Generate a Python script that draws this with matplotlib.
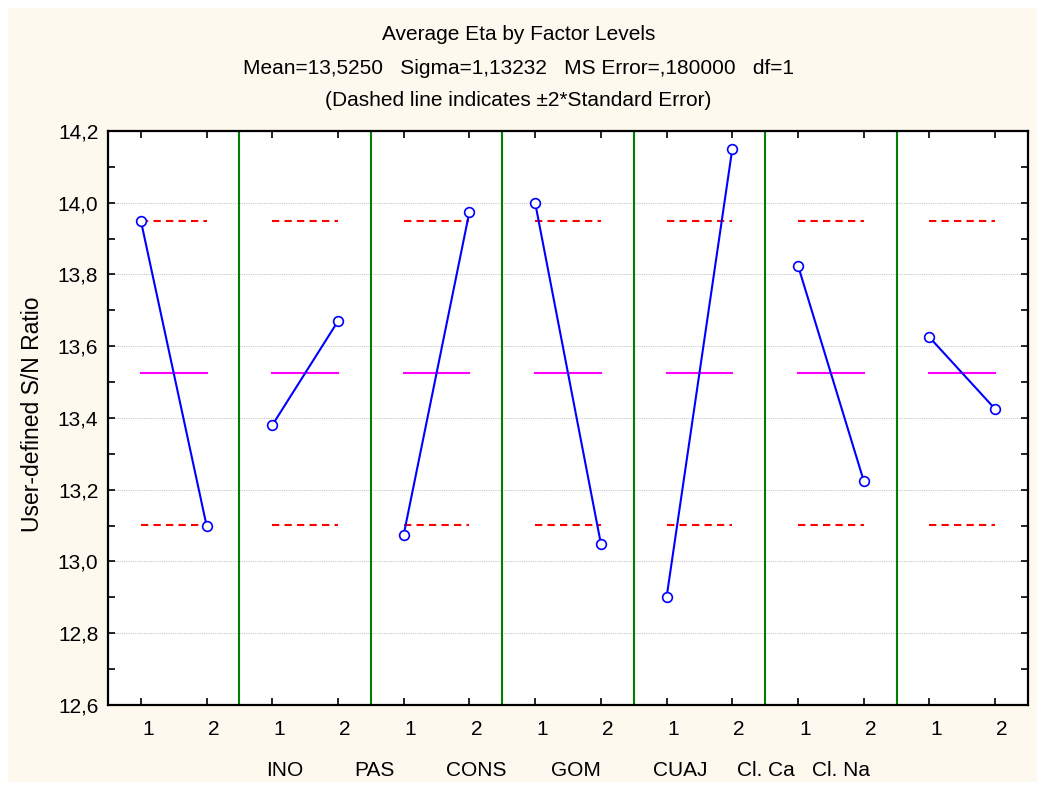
import numpy as np
import matplotlib
matplotlib.use("Agg")
import matplotlib.pyplot as plt
import matplotlib.transforms as mtransforms
from matplotlib.patches import Rectangle
from matplotlib.ticker import FuncFormatter, MultipleLocator

plt.rcParams["font.family"] = ["Liberation Sans", "DejaVu Sans"]

# mean S/N ratio at each factor level
factors = ["INO", "PAS", "CONS", "GOM", "CUAJ", "Cl. Ca", "Cl. Na"]
level_1 = [13.95, 13.38, 13.075, 14.00, 12.90, 13.825, 13.625]
level_2 = [13.10, 13.67, 13.975, 13.05, 14.15, 13.225, 13.425]
level_labels = ["1", "2"]

grand_mean = 13.525
ms_error = 0.18
n_per_level = 4

std_err = np.sqrt(ms_error / n_per_level)
upper = grand_mean + 2 * std_err
lower = grand_mean - 2 * std_err

W, H = 1037, 788
fig = plt.figure(figsize=(W / 100, H / 100), dpi=100, facecolor="white")
fig.add_artist(Rectangle((8 / W, 1 - 782 / H), 1 - 8 / W, 774 / H,
                         transform=fig.transFigure, facecolor="#fdf9ef",
                         edgecolor="none", zorder=-1))

ax = fig.add_axes([108 / W, 1 - 705 / H, 920 / W, 574 / H])
ax.set_facecolor("white")
ax.set_xlim(0, len(factors))
ax.set_ylim(12.6, 14.2)

blue, red, magenta, green = "#0000ff", "#ff0000", "#ff00ff", "#008000"

for i, (a, b) in enumerate(zip(level_1, level_2)):
    xs = [i + 0.25, i + 0.75]
    ax.plot(xs, [upper, upper], color=red, lw=1.5, dashes=(3.5, 2.5), zorder=3)
    ax.plot(xs, [lower, lower], color=red, lw=1.5, dashes=(3.5, 2.5), zorder=3)
    ax.plot(xs, [grand_mean, grand_mean], color=magenta, lw=1.5, zorder=3)
    ax.plot(xs, [a, b], color=blue, lw=1.5, marker="o", ms=7,
            mfc="white", mec=blue, mew=1.2, zorder=4)

for k in range(1, len(factors)):
    ax.axvline(k, color=green, lw=1.5, zorder=2)

ax.yaxis.set_major_locator(MultipleLocator(0.2))
ax.yaxis.set_minor_locator(MultipleLocator(0.1))
ax.yaxis.set_major_formatter(FuncFormatter(lambda v, _: f"{v:.1f}".replace(".", ",")))
ax.yaxis.grid(True, which="major", color="#c8c8c8", linestyle=(0, (1, 1)), lw=0.8)
ax.set_axisbelow(True)

xticks = [i + off for i in range(len(factors)) for off in (0.25, 0.75)]
ax.set_xticks(xticks)
ax.set_xticklabels(level_labels * len(factors))

ax.tick_params(axis="x", direction="in", top=True, length=5, width=1.2,
               pad=11, labelsize=15)
ax.tick_params(axis="y", which="both", direction="in", right=True, length=5,
               width=1.2, pad=7, labelsize=15)

shift = mtransforms.ScaledTranslation(5 / 72, 0, fig.dpi_scale_trans)
for lbl in ax.get_xticklabels():
    lbl.set_transform(lbl.get_transform() + shift)

for s in ax.spines.values():
    s.set_linewidth(1.6)

fig.text(0.5, 1 - 34 / H, "Average Eta by Factor Levels", ha="center", va="center", fontsize=15)
fig.text(0.5, 1 - 69 / H, "Mean=13,5250   Sigma=1,13232   MS Error=,180000   df=1",
         ha="center", va="center", fontsize=15)
fig.text(0.5, 1 - 101 / H, "(Dashed line indicates \u00b12*Standard Error)",
         ha="center", va="center", fontsize=15)

fig.text(33 / W, 1 - 414 / H, "User-defined S/N Ratio", rotation=90,
         ha="center", va="center", fontsize=16.5)

factor_x = [285, 374, 476, 576, 680, 766, 841]
for name, px in zip(factors, factor_x):
    fig.text(px / W, 1 - 770 / H, name, ha="center", va="center", fontsize=15)

fig.savefig("out.png", dpi=100)
